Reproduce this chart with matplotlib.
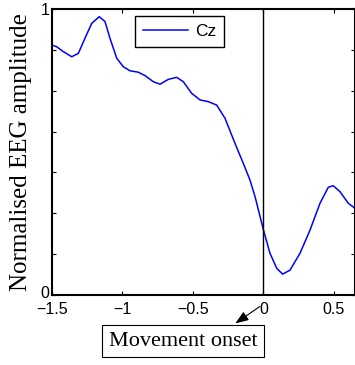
import matplotlib
matplotlib.use("Agg")
import matplotlib.pyplot as plt
import matplotlib.transforms as mtransforms
import numpy as np

time_s = [-1.5, -1.467, -1.420, -1.360, -1.313, -1.266, -1.218, -1.165, -1.124, -1.089,
          -1.041, -0.994, -0.947, -0.888, -0.840, -0.782, -0.734, -0.675, -0.616, -0.569,
          -0.509, -0.450, -0.391, -0.332, -0.273, -0.202, -0.143, -0.096, -0.060, 0.0,
          0.046, 0.094, 0.136, 0.188, 0.259, 0.330, 0.401, 0.460, 0.495, 0.543, 0.601, 0.649]
cz_amp = [0.874, 0.868, 0.851, 0.833, 0.845, 0.898, 0.950, 0.973, 0.956, 0.898,
          0.828, 0.798, 0.784, 0.779, 0.767, 0.746, 0.737, 0.754, 0.761, 0.746,
          0.705, 0.682, 0.676, 0.664, 0.618, 0.530, 0.460, 0.402, 0.344, 0.227,
          0.146, 0.093, 0.073, 0.087, 0.146, 0.227, 0.321, 0.377, 0.382, 0.361, 0.321, 0.303]
xticks = [-1.5, -1, -0.5, 0, 0.5]
xticklabels = ["\u22121.5", "\u22121", "\u22120.5", "0", "0.5"]
yticks = [0, 1/7, 2/7, 3/7, 4/7, 5/7, 6/7, 1]
yticklabels = ["0", "", "", "", "", "", "", "1"]

fig = plt.figure(figsize=(3.55, 3.65), dpi=100)
ax = fig.add_axes([52/355, 70/365, 303/355, 286/365])
ax.plot(time_s, cz_amp, color="#0000ff", lw=1.1, label="Cz")
ax.axvline(0, color="black", lw=1.0)
ax.set_xlim(-1.5, 0.649)
ax.set_ylim(0, 1)
ax.set_xticks(xticks)
ax.set_xticklabels(xticklabels, family="Liberation Sans", fontsize=11.5)
ax.set_yticks(yticks)
ax.set_yticklabels(yticklabels, family="Liberation Sans", fontsize=11.5)
ax.tick_params(direction="in", top=True, right=True, length=3, width=0.8, pad=2)
ax.tick_params(axis="x", pad=5)
# nudge the y "0" label up slightly so it clears the x tick labels
zero_lbl = ax.get_yticklabels()[0]
zero_lbl.set_transform(zero_lbl.get_transform() + mtransforms.ScaledTranslation(0, 2/72, fig.dpi_scale_trans))
for s in ax.spines.values():
    s.set_linewidth(1.5)
ax.set_ylabel("Normalised EEG amplitude", family="Liberation Serif", fontsize=18)
ax.yaxis.set_label_coords(-20/303, 0.5)
leg = ax.legend(loc="upper left", bbox_to_anchor=(83/303, 1 - 7/286), borderaxespad=0,
                prop={"family": "Liberation Sans", "size": 12.5},
                fancybox=False, edgecolor="black", framealpha=1, handlelength=2.6,
                handletextpad=0.4, borderpad=0.45)
leg.get_frame().set_linewidth(1.0)
ax.annotate("Movement onset", xy=(183/355, 1 - 341/365), xycoords="figure fraction",
            ha="center", va="center", family="Liberation Serif", fontsize=16, annotation_clip=False,
            bbox=dict(boxstyle="square,pad=0.3", fc="white", ec="black", lw=0.8))
ax.annotate("", xy=(233/355, 1 - 325/365), xycoords="figure fraction",
            xytext=(262/355, 1 - 305/365), textcoords="figure fraction",
            arrowprops=dict(arrowstyle="-|>,head_length=0.8,head_width=0.3", color="black", lw=0.8))
fig.savefig("out.png", dpi=100)
